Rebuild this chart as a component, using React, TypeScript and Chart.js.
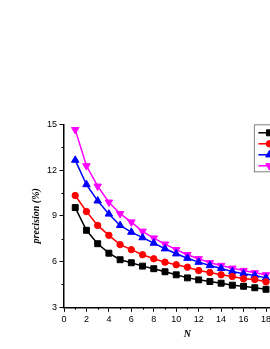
import React, { useEffect, useRef } from "react";
import { Chart, registerables } from "chart.js";
import { drawPoint } from "chart.js/helpers";

Chart.register(...registerables);

const nValues = [1, 2, 3, 4, 5, 6, 7, 8, 9, 10, 11, 12, 13, 14, 15, 16, 17, 18];
const seriesLabels = ["Method 1", "Method 2", "Method 3", "Method 4"];
const blackSeries = [9.54, 8.05, 7.17, 6.55, 6.12, 5.92, 5.7, 5.53, 5.33, 5.13, 4.93, 4.8, 4.69, 4.58, 4.45, 4.38, 4.28, 4.18];
const redSeries = [10.33, 9.28, 8.37, 7.72, 7.11, 6.78, 6.45, 6.18, 5.96, 5.79, 5.63, 5.41, 5.28, 5.13, 5.02, 4.87, 4.82, 4.67];
const blueSeries = [12.65, 11.05, 9.98, 9.12, 8.37, 7.93, 7.57, 7.21, 6.84, 6.51, 6.22, 5.96, 5.74, 5.55, 5.35, 5.2, 5.09, 4.93];
const magentaSeries = [14.65, 12.28, 10.94, 9.89, 9.14, 8.59, 7.98, 7.54, 7.14, 6.78, 6.45, 6.18, 5.92, 5.74, 5.56, 5.41, 5.26, 5.13];
const xMinorTicks = [1, 3, 5, 7, 9, 11, 13, 15, 17, 19, 21];
const yMinorTicks = [4.5, 7.5, 10.5, 13.5];

const CANVAS_W = 340;
const CANVAS_H = 349;

const minorTicksPlugin = {
  id: "minorTicks",
  afterDraw(chart: any) {
    const { ctx, scales } = chart;
    const xs = scales.x;
    const ys = scales.y;
    ctx.save();
    ctx.strokeStyle = "#000";
    ctx.lineWidth = 1;
    xMinorTicks.forEach((v) => {
      const px = Math.round(xs.getPixelForValue(v)) + 0.5;
      ctx.beginPath();
      ctx.moveTo(px, ys.bottom);
      ctx.lineTo(px, ys.bottom + 2.5);
      ctx.stroke();
    });
    yMinorTicks.forEach((v) => {
      const py = Math.round(ys.getPixelForValue(v)) + 0.5;
      ctx.beginPath();
      ctx.moveTo(xs.left - 2.5, py);
      ctx.lineTo(xs.left, py);
      ctx.stroke();
    });
    ctx.restore();
  },
};

const insideLegendPlugin = {
  id: "insideLegend",
  afterDraw(chart: any) {
    const { ctx, chartArea } = chart;
    const boxX = chartArea.right - 56.5;
    const boxY = chartArea.top + 0.5;
    const rowH = 11;
    const ds = chart.data.datasets;
    ctx.save();
    ctx.strokeStyle = "#808080";
    ctx.lineWidth = 1;
    ctx.strokeRect(boxX, boxY, 60, rowH * ds.length + 3);
    ds.forEach((d: any, i: number) => {
      const y = boxY + 8 + i * rowH;
      ctx.strokeStyle = d.borderColor;
      ctx.lineWidth = 1.5;
      ctx.beginPath();
      ctx.moveTo(boxX + 4, y);
      ctx.lineTo(boxX + 26, y);
      ctx.stroke();
      ctx.fillStyle = d.pointBackgroundColor;
      ctx.strokeStyle = d.borderColor;
      ctx.lineWidth = 1;
      drawPoint(ctx, { pointStyle: d.pointStyle, rotation: d.pointRotation || 0, radius: d.pointRadius, borderWidth: 1 }, boxX + 15, y);
      ctx.fillStyle = "#000";
      ctx.font = "9px 'Liberation Sans', Arial, sans-serif";
      ctx.textBaseline = "middle";
      ctx.fillText(d.label, boxX + 30, y);
    });
    ctx.restore();
  },
};

function makeDataset(label: string, values: number[], color: string, pointStyle: string, radius: number, rotation = 0) {
  return {
    label,
    data: values.map((v, i) => ({ x: nValues[i], y: v })),
    borderColor: color,
    backgroundColor: color,
    pointBackgroundColor: color,
    pointBorderColor: color,
    pointStyle,
    pointRadius: radius,
    pointRotation: rotation,
    pointBorderWidth: 1,
    borderWidth: 1.5,
    tension: 0,
  };
}

export default function App() {
  const canvasRef = useRef<HTMLCanvasElement | null>(null);

  useEffect(() => {
    if (!canvasRef.current) return;
    const chart = new Chart(canvasRef.current, {
      type: "line",
      data: {
        datasets: [
          makeDataset(seriesLabels[0], blackSeries, "#000000", "rect", 4.2),
          makeDataset(seriesLabels[1], redSeries, "#ff0000", "circle", 3.2),
          makeDataset(seriesLabels[2], blueSeries, "#0000ff", "triangle", 4.3),
          makeDataset(seriesLabels[3], magentaSeries, "#ff00ff", "triangle", 4.3, 180),
        ],
      },
      options: {
        responsive: false,
        animation: false,
        events: [],
        layout: { padding: { top: 124.3, right: CANVAS_W - 310.9, left: 0, bottom: 0 } },
        plugins: { legend: { display: false }, tooltip: { enabled: false } },
        scales: {
          x: {
            type: "linear",
            min: 0,
            max: 22,
            border: { display: true, color: "#000", width: 1.5 },
            grid: { drawOnChartArea: false, drawTicks: true, tickLength: 4.5, color: "#000", tickWidth: 1 },
            ticks: {
              stepSize: 2,
              padding: 2,
              color: "#000",
              font: { family: "'Liberation Sans', Arial, sans-serif", size: 9 },
              maxRotation: 0,
              autoSkip: false,
            },
            title: {
              display: true,
              text: "N",
              color: "#000",
              font: { family: "'Liberation Serif', 'Times New Roman', serif", size: 10, style: "italic", weight: "bold" },
              padding: { top: 0, bottom: 9 },
            },
            afterFit(scale: any) {
              scale.height = CANVAS_H - 307.3;
            },
          },
          y: {
            type: "linear",
            min: 3,
            max: 15,
            border: { display: true, color: "#000", width: 1.5 },
            grid: { drawOnChartArea: false, drawTicks: true, tickLength: 4.5, color: "#000", tickWidth: 1 },
            ticks: {
              stepSize: 3,
              padding: 2.5,
              color: "#000",
              font: { family: "'Liberation Sans', Arial, sans-serif", size: 9 },
            },
            title: {
              display: true,
              text: "precision (%)",
              color: "#000",
              font: { family: "'Liberation Serif', 'Times New Roman', serif", size: 10, style: "italic", weight: "bold" },
              padding: { top: 30.7, bottom: 0 },
            },
            afterFit(scale: any) {
              scale.width = 64;
            },
          },
        },
      } as any,
      plugins: [minorTicksPlugin, insideLegendPlugin],
    });
    return () => chart.destroy();
  }, []);

  return (
    <div style={{ position: "absolute", left: 0, top: 0, width: 270, height: 349, overflow: "hidden" }}>
      <canvas ref={canvasRef} width={CANVAS_W} height={CANVAS_H} style={{ display: "block" }} />
    </div>
  );
}
